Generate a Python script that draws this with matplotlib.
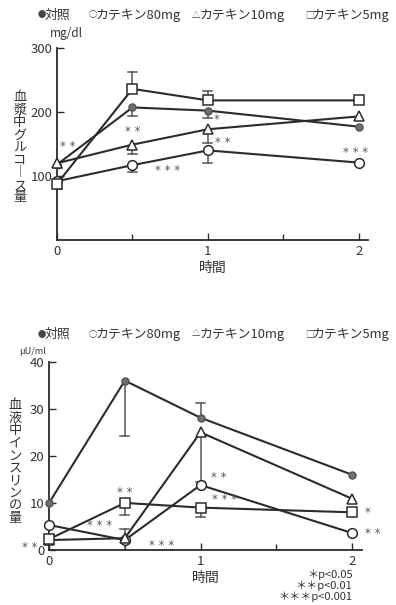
import numpy as np
import matplotlib.pyplot as plt

plt.rcParams['font.family'] = ['Noto Sans CJK JP', 'DejaVu Sans']

times = [0, 0.5, 1, 2]
series_names = ["対照", "カテキン80mg", "カテキン10mg", "カテキン5mg"]
legend_syms = ["●", "○", "△", "□"]

# blood glucose (mg/dl)
glu_control = [118, 207, 202, 177]
glu_80mg = [92, 117, 140, 121]
glu_10mg = [120, 149, 173, 193]
glu_5mg = [88, 236, 218, 218]
# error bars: (series index, time, low, high)
glu_err = [(3, 0.5, 236, 262), (0, 0.5, 194, 207), (3, 1, 218, 232), (0, 1, 191, 202),
           (2, 1, 152, 173), (1, 1, 120, 140), (2, 0.5, 134, 149), (1, 0.5, 106, 117),
           (2, 0, 112, 120), (3, 0, 80, 88)]
glu_marks = [(0.07, 146, "* *"), (0.5, 170, "* *"), (1.06, 188, "*"),
             (1.1, 152, "* *"), (0.73, 108, "* * *"), (1.98, 137, "* * *")]

# blood insulin (uU/ml)
ins_control = [10, 36, 28.1, 16]
ins_80mg = [5.3, 2.1, 13.8, 3.6]
ins_10mg = [2.1, 2.5, 25, 10.9]
ins_5mg = [2.3, 10, 9, 8]
ins_err = [(0, 0.5, 24.3, 36), (0, 1, 28.1, 31.3), (2, 1, 14.5, 25), (3, 0.5, 7.4, 10),
           (3, 1, 7, 9), (2, 0.5, 0.5, 4.5)]
ins_marks = [(-0.13, 0.6, "* *"), (0.5, 12.3, "* *"), (0.33, 5.2, "* * *"),
             (0.74, 0.9, "* * *"), (1.12, 15.5, "* *"), (1.16, 10.8, "* * *"),
             (2.1, 8, "*"), (2.14, 3.6, "* *")]

ink = "#2b2b2b"
styles = [dict(marker="o", ms=5, mfc="#707070", mec="#555555"),
          dict(marker="o", ms=7, mfc="white", mec=ink),
          dict(marker="^", ms=7, mfc="white", mec=ink),
          dict(marker="s", ms=7, mfc="white", mec=ink)]


def draw(ax, data, errs, marks, ylim, yticks, xlim):
    for idx, x, lo, hi in errs:
        y_pt = data[idx][times.index(x)]
        cap = lo if abs(y_pt - hi) < abs(y_pt - lo) else hi
        ax.plot([x, x], [lo, hi], color="#555555", lw=1.1, zorder=2)
        ax.plot([x - 0.03, x + 0.03], [cap, cap], color="#555555", lw=1.1, zorder=2)
    for vals, st in zip(data, styles):
        ax.plot(times, vals, color=ink, lw=1.5, mew=1.1, clip_on=False, zorder=3, **st)
    for x, y, s in marks:
        ax.text(x, y, s, fontsize=8.5, color="#555555", ha="center", va="center",
                family="DejaVu Sans", clip_on=False)
    ax.set_xlim(*xlim)
    ax.set_ylim(*ylim)
    ax.set_xticks([0, 1, 2])
    ax.set_xticks([0.5, 1.5], minor=True)
    ax.set_yticks(yticks)
    ax.spines[["top", "right"]].set_visible(False)
    for sp in ["left", "bottom"]:
        ax.spines[sp].set_linewidth(1.3)
        ax.spines[sp].set_color(ink)
    ax.tick_params(direction="in", length=5, width=1, labelsize=9.5, colors=ink, labelcolor="#333333")
    ax.tick_params(which="minor", direction="in", length=4, width=1, colors=ink)
    ax.set_xlabel("時間", fontsize=10, labelpad=2, color="#333333")


def legend_line(fig, y):
    sym_x = [38, 89, 192, 305]
    name_x = [45, 96, 200, 312]
    for sym, name, sx, nx in zip(legend_syms, series_names, sym_x, name_x):
        fig.text(sx / 396, y, sym, fontsize=6, color="#444444", va="center", ha="left")
        fig.text(nx / 396, y, name, fontsize=9.3, color="#333333", va="center", ha="left")


fig = plt.figure(figsize=(3.96, 6.05), dpi=100)

ax1 = fig.add_axes([0.144, 0.603, 0.785, 0.318])
draw(ax1, [glu_control, glu_80mg, glu_10mg, glu_5mg], glu_err, glu_marks,
     (0, 300), [100, 200, 300], (0, 2.06))
legend_line(fig, 1 - 15 / 605)
fig.text(0.125, 1 - 33 / 605, "mg/dl", fontsize=8.5, ha="left", va="center", color="#333333")
fig.text(0.05, 1 - 148 / 605, "\n".join("血漿中グルコ︱ス量"), fontsize=9.5, ha="center", va="center",
         linespacing=0.95, color="#333333")

ax2 = fig.add_axes([0.124, 0.091, 0.79, 0.311])
draw(ax2, [ins_control, ins_80mg, ins_10mg, ins_5mg], ins_err, ins_marks,
     (0, 40), [0, 10, 20, 30, 40], (0, 2.066))
legend_line(fig, 1 - 334 / 605)
fig.text(0.048, 1 - 352 / 605, "μU/ml", fontsize=6.5, ha="left", va="center", color="#333333")
fig.text(0.038, 1 - 462 / 605, "\n".join("血液中インスリンの量"), fontsize=9.5, ha="center", va="center",
         linespacing=0.95, color="#333333")

fig.text(0.89, 1 - 575 / 605, "＊p<0.05", fontsize=8, ha="right", va="center", color="#333333")
fig.text(0.89, 1 - 586 / 605, "＊＊p<0.01", fontsize=8, ha="right", va="center", color="#333333")
fig.text(0.89, 1 - 597 / 605, "＊＊＊p<0.001", fontsize=8, ha="right", va="center", color="#333333")

fig.savefig("out.png", dpi=100, facecolor="white")
